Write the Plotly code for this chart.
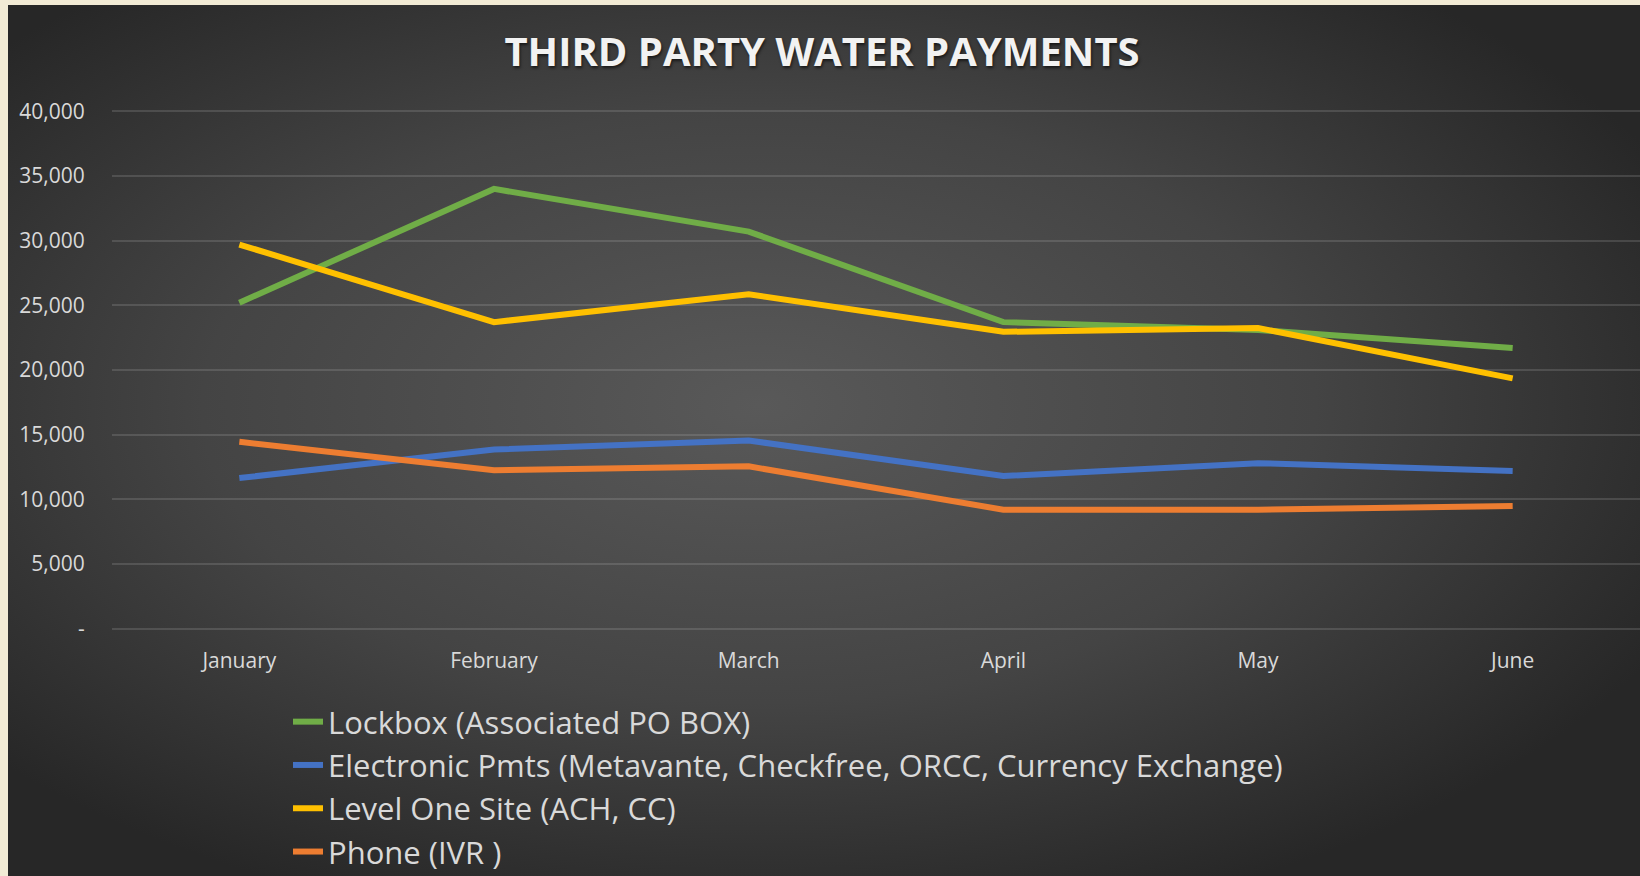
import base64
import plotly.graph_objects as go

months = ["January", "February", "March", "April", "May", "June"]
lockbox = [25200, 34000, 30700, 23700, 23100, 21700]
electronic = [11650, 13850, 14550, 11800, 12800, 12200]
level_one = [29700, 23700, 25850, 22950, 23250, 19350]
phone = [14450, 12250, 12550, 9200, 9200, 9480]

series_names = [
    "Lockbox (Associated PO BOX)",
    "Electronic Pmts (Metavante, Checkfree, ORCC, Currency Exchange)",
    "Level One Site (ACH, CC)",
    "Phone (IVR )",
]
series_values = [lockbox, electronic, level_one, phone]
series_colors = ["#70AD47", "#4472C4", "#FFC000", "#ED7D31"]

y_tickvals = [0, 5000, 10000, 15000, 20000, 25000, 30000, 35000, 40000]
y_ticktext = ["-", "5,000", "10,000", "15,000", "20,000", "25,000", "30,000", "35,000", "40,000"]

W, H = 1640, 876
ML, MR, MT, MB = 112, 0, 110, 246
PW, PH = W - ML - MR, H - MT - MB

fig = go.Figure()
for name, vals, col in zip(series_names, series_values, series_colors):
    fig.add_trace(go.Scatter(
        x=months, y=vals, name=name, mode="lines",
        line=dict(color=col, width=6),
    ))

# radial-gradient chart background (dark area starts at x=8, y=5)
bw, bh = W - 8, H - 5
svg = (
    f'<svg xmlns="http://www.w3.org/2000/svg" width="{bw}" height="{bh}" '
    f'viewBox="0 0 {bw} {bh}" preserveAspectRatio="none">'
    '<defs><radialGradient id="g" cx="0.46" cy="0.46" r="0.62">'
    '<stop offset="0" stop-color="#595959"/>'
    '<stop offset="0.55" stop-color="#444444"/>'
    '<stop offset="1" stop-color="#272727"/>'
    '</radialGradient></defs>'
    f'<rect width="{bw}" height="{bh}" fill="url(#g)"/></svg>'
)
src = "data:image/svg+xml;base64," + base64.b64encode(svg.encode()).decode()

def px_x(px):
    return (px - ML) / PW

def px_y(py):
    return (H - MB - py) / PH

fig.add_layout_image(dict(
    source=src, xref="paper", yref="paper",
    x=px_x(8), y=px_y(5), sizex=bw / PW, sizey=bh / PH,
    xanchor="left", yanchor="top", sizing="stretch", layer="below",
))

tick_font = dict(family="Open Sans, sans-serif", size=21, color="#D9D9D9")

fig.update_layout(
    width=W, height=H,
    margin=dict(l=ML, r=MR, t=MT, b=MB, pad=0, autoexpand=False),
    paper_bgcolor="#F2EBD5",
    plot_bgcolor="rgba(0,0,0,0)",
    title=dict(
        text="THIRD PARTY WATER PAYMENTS",
        x=822 / W, xref="container", xanchor="center",
        y=1 - 52 / H, yref="container", yanchor="middle",
        font=dict(family="Open Sans, sans-serif", size=40, color="#F2F2F2",
                  weight="bold", shadow="1px 2px 3px rgba(0,0,0,0.6)"),
    ),
    xaxis=dict(
        range=[-0.5, 5.5],
        showgrid=False, zeroline=False, showline=False,
        ticks="outside", ticklen=12, tickcolor="rgba(0,0,0,0)",
        tickfont=tick_font, fixedrange=True,
    ),
    yaxis=dict(
        range=[-100, 40100], tickvals=y_tickvals, ticktext=y_ticktext,
        showgrid=True, gridcolor="rgba(200,200,200,0.18)", gridwidth=1.5,
        zeroline=False, showline=False,
        ticks="outside", ticklen=22, tickcolor="rgba(0,0,0,0)",
        tickfont=tick_font, fixedrange=True,
    ),
    showlegend=True,
    legend=dict(
        x=px_x(288), xanchor="left", y=px_y(695), yanchor="top",
        orientation="v", bgcolor="rgba(0,0,0,0)",
        font=dict(family="Open Sans, sans-serif", size=31, color="#D9D9D9"),
        itemclick=False, itemdoubleclick=False,
    ),
)

fig.write_html("out.html")
